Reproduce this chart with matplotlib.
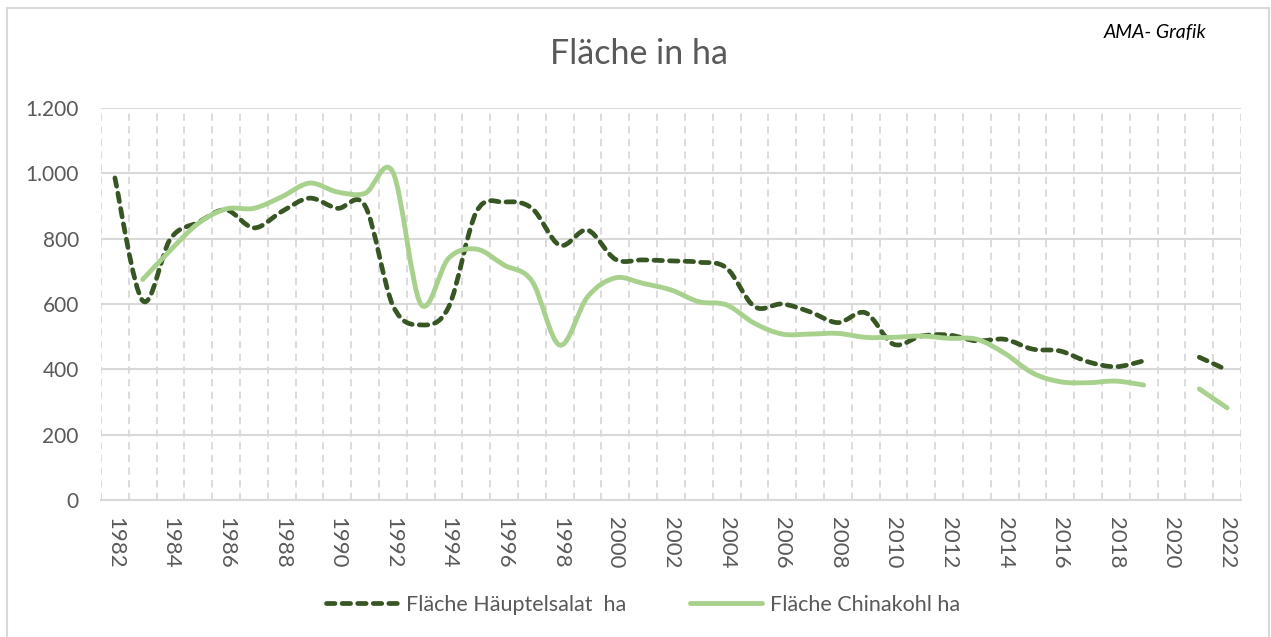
import numpy as np
import matplotlib.pyplot as plt
from matplotlib.path import Path
from matplotlib.patches import PathPatch, Rectangle
from matplotlib.lines import Line2D
from matplotlib.ticker import FuncFormatter, MultipleLocator

# Daten, nan = kein Wert
jahre = list(range(1982, 2023))
salat = [986, 610, 800, 850, 888, 833, 883, 924, 893, 900, 595, 536, 590, 882, 912, 893,
         780, 826, 737, 735, 732, 728, 710, 592, 600, 576, 543, 573, 477, 502, 505, 487,
         492, 462, 456, 423, 408, 426, np.nan, 437, 398]
chinakohl = [np.nan, 675, 765, 847, 891, 893, 928, 970, 943, 939, 1003, 600, 740, 768, 719, 670,
             474, 622, 680, 663, 643, 607, 597, 541, 508, 508, 510, 498, 498, 502, 495, 492,
             449, 389, 362, 359, 364, 352, np.nan, 340, 282]

c_salat = '#375623'
c_kohl = '#A9D18E'
grau = '#595959'
gitter = '#D9D9D9'
schrift = 'Lato'


def glatte_linie(x, y):
    # Bezier-Pfad wie Excel "geglättete Linie", pro zusammenhängendem Stück
    x = np.asarray(x, float)
    y = np.asarray(y, float)
    ok = ~np.isnan(y)
    pfade = []
    i = 0
    while i < len(y):
        if not ok[i]:
            i += 1
            continue
        j = i
        while j < len(y) and ok[j]:
            j += 1
        px, py = x[i:j], y[i:j]
        verts = [(px[0], py[0])]
        codes = [Path.MOVETO]
        n = len(px)
        for k in range(n - 1):
            k0 = max(k - 1, 0)
            k3 = min(k + 2, n - 1)
            c1 = (px[k] + (px[k + 1] - px[k0]) / 6, py[k] + (py[k + 1] - py[k0]) / 6)
            c2 = (px[k + 1] - (px[k3] - px[k]) / 6, py[k + 1] - (py[k3] - py[k]) / 6)
            verts += [c1, c2, (px[k + 1], py[k + 1])]
            codes += [Path.CURVE4] * 3
        pfade.append(Path(verts, codes))
        i = j
    return pfade


fig = plt.figure(figsize=(12.71, 6.37), dpi=100)
ax = fig.add_axes([101 / 1271, 1 - 500 / 637, 1140 / 1271, 392 / 637])

# Rahmen um das Diagramm
fig.patches.append(Rectangle((7 / 1271, -0.05), 1262 / 1271, 1 - 8 / 637 + 0.05,
                             transform=fig.transFigure, fill=False, edgecolor=gitter, lw=1.5))

for p in glatte_linie(jahre, salat):
    ax.add_patch(PathPatch(p, fill=False, edgecolor=c_salat, lw=3.4,
                           linestyle=(0, (1.8, 1.5)), capstyle='round', joinstyle='round', zorder=3))
for p in glatte_linie(jahre, chinakohl):
    ax.add_patch(PathPatch(p, fill=False, edgecolor=c_kohl, lw=3.5,
                           capstyle='round', joinstyle='round', zorder=3))

ax.set_xlim(1981.5, 2022.5)
ax.set_ylim(0, 1200)
ax.yaxis.set_major_locator(MultipleLocator(200))
ax.yaxis.set_major_formatter(FuncFormatter(lambda v, p: f'{int(v):,}'.replace(',', '.')))
ax.set_xticks(jahre[::2])
ax.set_xticks(np.arange(1981.5, 2023, 1), minor=True)

ax.grid(axis='y', which='major', color=gitter, lw=1.5)
ax.grid(axis='x', which='minor', color=gitter, lw=1.3, linestyle=(0, (4, 3)))
ax.set_axisbelow(True)
for s in ['top', 'right', 'left']:
    ax.spines[s].set_visible(False)
ax.spines['bottom'].set_color(gitter)
ax.spines['bottom'].set_linewidth(1.5)

ax.tick_params(which='both', length=0)
ax.tick_params(axis='y', pad=16, labelsize=15, labelcolor=grau)
ax.tick_params(axis='x', pad=12, labelsize=16, labelcolor=grau)
for t in ax.get_yticklabels() + ax.get_xticklabels():
    t.set_family(schrift)
for t in ax.get_xticklabels():
    t.set_rotation(270)

fig.text(639 / 1271, 1 - 54 / 637, 'Fläche in ha', ha='center', va='center', fontsize=24.5,
         color=grau, family=schrift)
fig.text(1155 / 1271, 1 - 33 / 637, 'AMA- Grafik', ha='center', va='center', fontsize=14,
         style='italic', color='black', family=schrift)

handles = [Line2D([], [], color=c_salat, lw=3.4, linestyle=(0, (1.8, 1.5)), dash_capstyle='round'),
           Line2D([], [], color=c_kohl, lw=3.5, solid_capstyle='round')]
fig.legend(handles, ['Fläche Häuptelsalat  ha', 'Fläche Chinakohl ha'], loc='center',
           bbox_to_anchor=(0.506, 1 - 605 / 637), ncol=2, frameon=False, handlelength=3.3,
           columnspacing=3.0, handletextpad=0.4,
           prop={'family': schrift, 'size': 15.5}, labelcolor=grau)

fig.savefig('out.png', dpi=100)
